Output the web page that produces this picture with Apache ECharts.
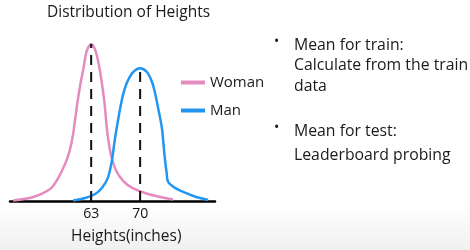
<!DOCTYPE html>
<html>
<head>
<meta charset="utf-8">
<script src="https://cdn.jsdelivr.net/npm/echarts@6/dist/echarts.min.js"></script>
<style>
html,body{margin:0;padding:0;background:#fff;}
#c{width:470px;height:250px;}
</style>
</head>
<body>
<div id="c"></div>
<script>
// ---- data ----
var title = 'Distribution of Heights';
var xName = 'Heights(inches)';
var tickValues = [63, 70];
var womanX = [51.86, 54.71, 57.14, 58.14, 59.29, 59.93, 60.43, 61.04, 61.43, 61.9, 62.36, 63.0, 63.64, 64.19, 64.57, 64.9, 65.33, 65.86, 66.57, 67.57, 68.86, 71.14, 74.71];
var womanY = [0.5, 4, 12, 21, 37, 50, 67, 98, 115, 132, 149, 156, 149, 132, 115, 98, 67, 45, 30, 20, 13, 7, 1.5];
var manX = [60.43, 62.14, 63.57, 64.53, 65.39, 65.96, 66.36, 66.71, 67.14, 67.57, 68.14, 69.0, 70.0, 71.0, 71.71, 72.14, 72.64, 73.1, 73.36, 73.57, 73.79, 74.0, 75.24, 76.86, 78.0, 79.71];
var manY = [0.5, 3, 7, 13, 23, 40, 60, 75, 92, 106, 118, 128, 132, 128, 118, 107, 90, 73, 55, 40, 28, 19, 12, 7, 4, 1];
var womanMean = 63, womanPeak = 156;
var manMean = 70, manPeak = 132;
var bullet1 = ['Mean for train:', 'Calculate from the train', 'data'];
var bullet2 = ['Mean for test:', 'Leaderboard probing'];

function zip(a, b) { return a.map(function (v, i) { return [v, b[i]]; }); }

var FONT = '"Open Sans", sans-serif';
var PINK = '#e48bbf', BLUE = '#2196f3';

var chart = echarts.init(document.getElementById('c'), null, {renderer: 'canvas'});
function txt(t, size, extra) {
  return Object.assign({text: t, fontFamily: FONT, fontSize: size, fill: '#1a1a1a'}, extra || {});
}

chart.setOption({
  animation: false,
  backgroundColor: {
    type: 'linear', x: 0, y: 0, x2: 0, y2: 1,
    colorStops: [{offset: 0, color: '#ffffff'}, {offset: 0.82, color: '#ffffff'}, {offset: 1, color: '#f0f0f0'}]
  },
  grid: {left: 10, right: 255, top: 40, bottom: 49, containLabel: false},
  xAxis: {
    type: 'value', min: 51.4, max: 80.7,
    axisLine: {show: true, lineStyle: {color: '#000', width: 2.5}},
    axisTick: {show: true, inside: true, length: 6, customValues: tickValues, lineStyle: {color: '#000', width: 1.5}},
    axisLabel: {show: true, customValues: tickValues, fontFamily: FONT, fontSize: 14, color: '#111', margin: 6},
    splitLine: {show: false}
  },
  yAxis: {type: 'value', min: 0, max: 160, show: false, splitLine: {show: false}},
  legend: {
    orient: 'vertical', left: 176, top: 70, itemWidth: 24, itemHeight: 4, itemGap: 13,
    icon: 'rect',
    data: ['Woman', 'Man'],
    textStyle: {fontFamily: FONT, fontSize: 15, color: '#1a1a1a'}
  },
  series: [
    {name: 'Woman', type: 'line', data: zip(womanX, womanY), smooth: 0.3, showSymbol: false,
     lineStyle: {color: PINK, width: 2.5}, itemStyle: {color: PINK}, z: 2},
    {name: 'Man', type: 'line', data: zip(manX, manY), smooth: 0.3, showSymbol: false,
     lineStyle: {color: BLUE, width: 2.5}, itemStyle: {color: BLUE}, z: 2},
    {name: 'wmean', type: 'line', data: [[womanMean, 0], [womanMean, womanPeak]], showSymbol: false,
     lineStyle: {color: '#111', width: 2, type: [10, 7]}, z: 3},
    {name: 'mmean', type: 'line', data: [[manMean, 0], [manMean, manPeak]], showSymbol: false,
     lineStyle: {color: '#111', width: 2, type: [10, 7]}, z: 3}
  ],
  graphic: [
    {type: 'text', left: 47, top: 5, style: txt(title, 15.5)},
    {type: 'text', left: 71, top: 229, style: txt(xName, 15.5)},
    {type: 'text', left: 274, top: 35, style: txt('•', 14)},
    {type: 'text', left: 294, top: 35, style: txt(bullet1.join('\n'), 15.8, {lineHeight: 20.5})},
    {type: 'text', left: 274, top: 121, style: txt('•', 14)},
    {type: 'text', left: 294, top: 120, style: txt(bullet2.join('\n'), 15.8, {lineHeight: 23.5})}
  ]
});
</script>
</body>
</html>
